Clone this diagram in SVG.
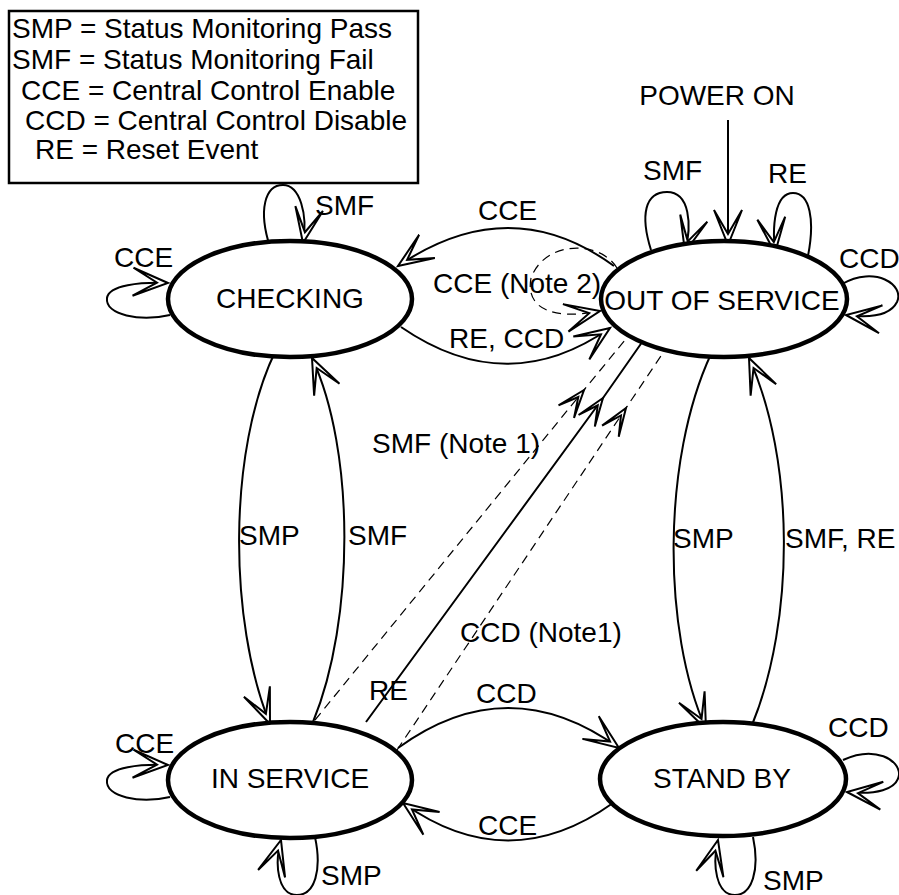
<svg xmlns="http://www.w3.org/2000/svg" width="899" height="895" viewBox="0 0 899 895">
<style>
text{font-family:"Liberation Sans",Arial,sans-serif;font-size:28px;fill:#000}
.mid{text-anchor:middle}
.node{fill:#fff;stroke:#000;stroke-width:4.5}
.c{fill:none;stroke:#000;stroke-width:2}
.d{fill:none;stroke:#000;stroke-width:1.2;stroke-dasharray:9 6}
.ah{fill:#fff;stroke:#000;stroke-width:2;stroke-linejoin:miter}
</style>
<defs>
<marker id="big" markerUnits="userSpaceOnUse" orient="auto" refX="0" refY="0" markerWidth="40" markerHeight="40" style="overflow:visible">
<path class="ah" d="M0,0 L-35,-14 L-11,0 L-35,14 Z"/>
</marker>
<marker id="small" markerUnits="userSpaceOnUse" orient="auto" refX="0" refY="0" markerWidth="40" markerHeight="40" style="overflow:visible">
<path class="ah" d="M0,0 L-28,-10 L-9,0 L-28,10 Z"/>
</marker>
</defs>
<rect width="899" height="895" fill="#fff"/>
<g id="legend">
<rect x="9" y="11" width="409" height="172" fill="#fff" stroke="#000" stroke-width="2.5"/>
<text x="12" y="38">SMP = Status Monitoring Pass</text>
<text x="12" y="69">SMF = Status Monitoring Fail</text>
<text x="21" y="100">CCE = Central Control Enable</text>
<text x="25" y="130">CCD = Central Control Disable</text>
<text x="35" y="159">RE = Reset Event</text>
</g>
<g id="connectors">
<path class="c" d="M728,120 L728,245" marker-end="url(#big)"/>
<path class="c" d="M651,250 C640,215 645,192 667,192 C690,192 692,225 685,252" marker-end="url(#big)"/>
<path class="c" d="M808,256 C815,220 810,193 793,193 C775,193 772,225 775,253" marker-end="url(#big)"/>
<path class="c" d="M842,284 C875,265 905,285 897,302 C890,316 870,318 846,315" marker-end="url(#big)"/>
<path class="c" d="M270,247 C258,210 265,185 283,185 C300,185 308,215 303,243" marker-end="url(#big)"/>
<path class="c" d="M170,315 C140,322 105,315 107,298 C109,285 140,282 168,283" marker-end="url(#big)"/>
<path class="c" d="M170,797 C140,804 105,797 107,780 C109,767 140,764 168,765" marker-end="url(#big)"/>
<path class="c" d="M315,837 C322,870 315,895 297,895 C278,895 274,865 281,840" marker-end="url(#big)"/>
<path class="c" d="M753,837 C760,870 752,895 735,895 C716,895 712,865 718,840" marker-end="url(#big)"/>
<path class="c" d="M843,760 C875,745 900,760 899,775 C897,790 875,795 847,792" marker-end="url(#big)"/>
<path class="c" d="M614,266 Q510,190 398,266" marker-end="url(#big)"/>
<path class="c" d="M401,327 Q507,400 610,328" marker-end="url(#big)"/>
<path class="d" d="M617,268 C600,240 545,240 531,278 C525,310 555,320 600,311" marker-end="url(#big)"/>
<path class="c" d="M275,352 C228,450 228,620 270,724" marker-end="url(#big)"/>
<path class="c" d="M313,722 C355,620 355,450 312,358" marker-end="url(#big)"/>
<path class="c" d="M711,354 C662,460 662,630 706,729" marker-end="url(#big)"/>
<path class="c" d="M752,725 C795,620 795,460 749,358" marker-end="url(#big)"/>
<path class="c" d="M398,748 Q508,668 619,748" marker-end="url(#big)"/>
<path class="c" d="M613,803 Q508,878 403,803" marker-end="url(#big)"/>
<path class="d" d="M315,720 L584,390 L625,340" marker-mid="url(#small)"/>
<path class="c" d="M366,722 L603,398 L645,338" marker-mid="url(#small)"/>
<path class="d" d="M397,750 L626,408 L665,350" marker-mid="url(#small)"/>
</g>
<g id="labels">
<text class="mid" x="717" y="105">POWER ON</text>
<text x="643" y="180">SMF</text>
<text x="768" y="183">RE</text>
<text x="839" y="268">CCD</text>
<text x="315" y="215">SMF</text>
<text x="114" y="267">CCE</text>
<text x="478" y="220">CCE</text>
<text x="433" y="293">CCE (Note 2)</text>
<text x="449" y="348">RE, CCD</text>
<text x="372" y="453">SMF (Note 1)</text>
<text x="239" y="545">SMP</text>
<text x="348" y="545">SMF</text>
<text x="673" y="548">SMP</text>
<text x="785" y="548">SMF, RE</text>
<text x="460" y="642">CCD (Note1)</text>
<text x="369" y="700">RE</text>
<text x="476" y="703">CCD</text>
<text x="115" y="753">CCE</text>
<text x="828" y="737">CCD</text>
<text x="478" y="835">CCE</text>
<text x="321" y="885">SMP</text>
<text x="763" y="890">SMP</text>
</g>
<g id="checking">
<ellipse class="node" cx="290" cy="299" rx="122" ry="58"/>
<text class="mid" x="290" y="308">CHECKING</text>
</g>
<g id="out-of-service">
<ellipse class="node" cx="724" cy="299" rx="123" ry="58"/>
<text class="mid" x="722" y="310">OUT OF SERVICE</text>
</g>
<g id="in-service">
<ellipse class="node" cx="290" cy="780" rx="122" ry="58"/>
<text class="mid" x="290" y="788">IN SERVICE</text>
</g>
<g id="stand-by">
<ellipse class="node" cx="723" cy="779" rx="123" ry="57"/>
<text class="mid" x="722" y="788">STAND BY</text>
</g>
</svg>
